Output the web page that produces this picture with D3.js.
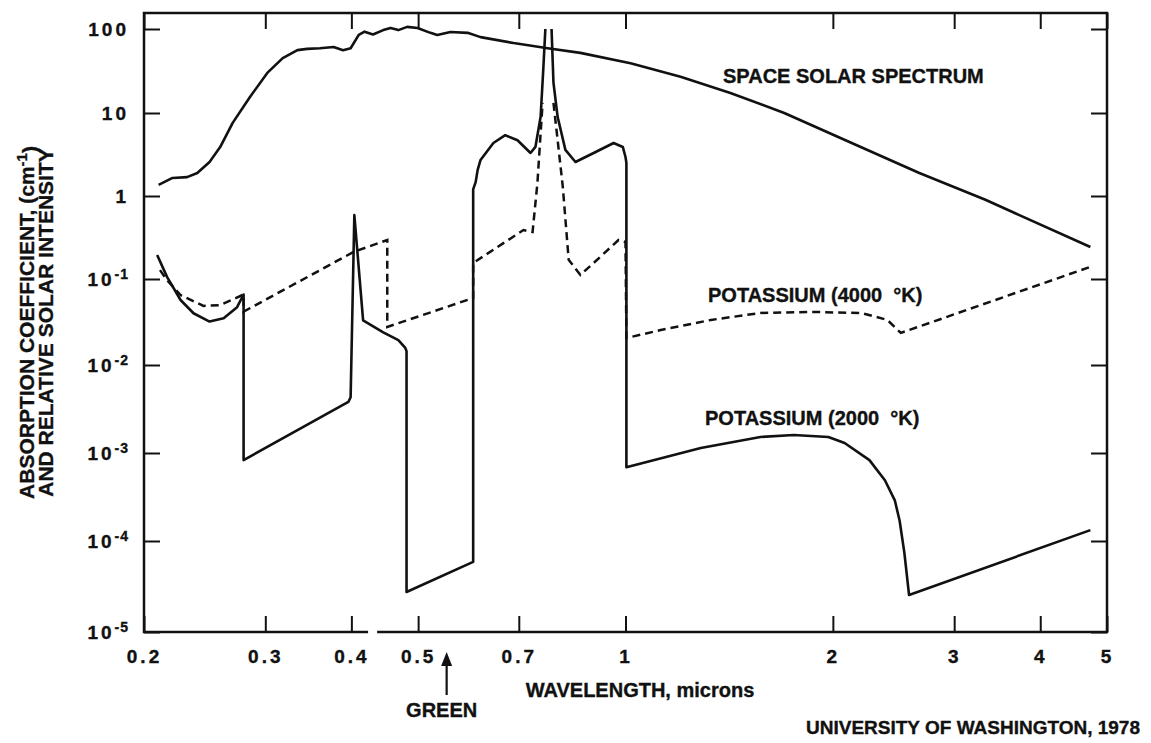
<!DOCTYPE html>
<html>
<head>
<meta charset="utf-8">
<script src="https://cdn.jsdelivr.net/npm/d3@7"></script>
<style>
  body { margin: 0; background: #fff; }
  svg { display: block; }
  text { font-family: "Liberation Sans", Arial, sans-serif; font-weight: bold; fill: #111; stroke: #111; stroke-width: 0.35px; }
</style>
</head>
<body>
<div id="chart"></div>
<script>
// data: [wavelength (microns), value]
// null value = pen lifted (gap between the two K resonance lines)
var solar = [
  [0.210, 1.36], [0.220, 1.65], [0.231, 1.69], [0.239, 1.89], [0.249, 2.57], [0.258, 3.89],
  [0.269, 7.6], [0.285, 15.5], [0.302, 30], [0.318, 45], [0.334, 56], [0.345, 58], [0.360, 59],
  [0.377, 61], [0.389, 56], [0.399, 59], [0.410, 85], [0.418, 93], [0.430, 86], [0.445, 97],
  [0.456, 103], [0.468, 97], [0.482, 106], [0.499, 103], [0.521, 90], [0.533, 85], [0.557, 92],
  [0.590, 90], [0.616, 80], [0.688, 68], [0.771, 59], [0.860, 52], [1.017, 39], [1.202, 27],
  [1.42, 17.3], [1.70, 10], [2.13, 4.35], [2.67, 1.89], [3.33, 0.9], [4.73, 0.243]
];

var potassium2000 = [
  [0.209, 0.195], [0.216, 0.106], [0.226, 0.057], [0.236, 0.040], [0.249, 0.032], [0.261, 0.035],
  [0.273, 0.047], [0.279, 0.066],
  [0.279, 8.3e-4], [0.396, 0.0038], [0.399, 0.0043], [0.404, 0.59], [0.416, 0.033], [0.445, 0.024],
  [0.468, 0.0195], [0.479, 0.0158], [0.481, 0.0145],
  [0.481, 2.75e-5], [0.601, 5.9e-5],
  [0.601, 1.2], [0.606, 1.47], [0.610, 2.05], [0.616, 2.72], [0.643, 4.35], [0.669, 5.4],
  [0.697, 4.7], [0.728, 3.3], [0.740, 3.9], [0.753, 9], [0.760, 35], [0.765, 100],
  [0.773, null],
  [0.781, 100], [0.786, 23], [0.797, 9], [0.818, 3.6], [0.846, 2.57], [0.899, 3.3], [0.961, 4.35],
  [0.991, 3.9], [1.0, 2.95], [1.003, 2.5],
  [1.003, 6.9e-4], [1.286, 1.14e-3], [1.57, 1.52e-3], [1.755, 1.6e-3], [1.97, 1.52e-3],
  [2.08, 1.3e-3], [2.26, 8.3e-4], [2.38, 4.9e-4], [2.46, 2.9e-4], [2.50, 1.7e-4], [2.54, 7.4e-5],
  [2.58, 2.55e-5], [4.73, 1.33e-4]
];

var potassium4000 = [
  [0.211, 0.128], [0.216, 0.097], [0.226, 0.065], [0.244, 0.0486], [0.258, 0.0497], [0.279, 0.066],
  [0.279, 0.0417], [0.403, 0.212], [0.451, 0.295],
  [0.451, 0.0277], [0.601, 0.0601],
  [0.601, 0.156], [0.711, 0.389], [0.733, 0.368], [0.745, 1.44], [0.753, 5.74], [0.758, 13.2],
  [0.772, null],
  [0.786, 13.2], [0.797, 4.73], [0.811, 1.28], [0.827, 0.17], [0.860, 0.112], [0.899, 0.156],
  [0.977, 0.295], [1.0, 0.279],
  [1.003, 0.0206], [1.125, 0.0255], [1.33, 0.0334], [1.57, 0.0403], [1.86, 0.0414], [2.20, 0.0403],
  [2.40, 0.0334], [2.51, 0.0236], [4.73, 0.14]
];

var xTicks = [0.2, 0.3, 0.4, 0.5, 0.7, 1, 2, 3, 4, 5];
var yTicks = [1e-5, 1e-4, 1e-3, 1e-2, 1e-1, 1, 10, 100];
var axisBreak = [0.423, 0.436];   // gap in the bottom axis line
var greenMark = 0.55;

// Margin and SVG

var svgWidth = 1151;
var svgHeight = 743;

var margin = { top: 13, right: 44, bottom: 111, left: 144 };
var width = svgWidth - margin.left - margin.right;
var height = svgHeight - margin.top - margin.bottom;

var svg = d3.select("#chart")
  .append("svg")
  .attr("width", svgWidth)
  .attr("height", svgHeight);

var chartGroup = svg.append("g")
  .attr("transform", `translate(${margin.left}, ${margin.top})`);

var x = d3.scaleLog()
  .domain([0.2, 5])
  .range([0, width]);

// the original's decades are not evenly spaced (hand drawn), so the y scale is piecewise log
var y = d3.scaleLog()
  .domain(yTicks)
  .range([619, 528, 440, 352, 266, 183, 100, 16]);

// axes, ticks pointing inwards
var tickLen = 16;

var bottomAxis = chartGroup.append("g")
  .attr("transform", `translate(0, ${height})`)
  .call(d3.axisBottom(x).tickValues(xTicks).tickSize(-tickLen).tickPadding(18)
    .tickFormat(d3.format("~g")));

chartGroup.append("g")
  .call(d3.axisTop(x).tickValues(xTicks).tickSize(-tickLen).tickFormat(""));

var leftAxis = chartGroup.append("g")
  .call(d3.axisLeft(y).tickValues(yTicks).tickSize(-tickLen).tickPadding(15));

chartGroup.append("g")
  .attr("transform", `translate(${width}, 0)`)
  .call(d3.axisRight(y).tickValues(yTicks).tickSize(-tickLen).tickFormat(""));

chartGroup.selectAll(".domain").remove();
chartGroup.selectAll(".tick line").attr("stroke", "#111").attr("stroke-width", 2);
chartGroup.selectAll(".tick text")
  .attr("font-size", 19)
  .attr("font-family", null)
  .attr("letter-spacing", "3px");

// powers of ten below 1 get superscripts
leftAxis.selectAll(".tick text").each(function(d) {
  var t = d3.select(this);
  var e = Math.round(Math.log10(d));
  if (e >= 0) return;
  t.text(null);
  t.append("tspan").text("10");
  t.append("tspan").attr("dy", "-0.5em").attr("font-size", 14).attr("letter-spacing", "1px")
    .text("-" + Math.abs(e));
});

// frame, bottom edge broken between 0.4 and 0.5
var frame = chartGroup.append("g")
  .attr("stroke", "#111")
  .attr("stroke-width", 2.5)
  .attr("fill", "none");

frame.append("path")
  .attr("d", `M${x(axisBreak[0])},${height}H0V0H${width}V${height}H${x(axisBreak[1])}`);

// curves
var line = d3.line()
  .defined(d => d[1] != null)
  .x(d => x(d[0]))
  .y(d => y(d[1]));

chartGroup.append("path")
  .datum(solar)
  .attr("d", line)
  .attr("fill", "none")
  .attr("stroke", "#111")
  .attr("stroke-width", 2.6)
  .attr("stroke-linejoin", "round");

chartGroup.append("path")
  .datum(potassium2000)
  .attr("d", line)
  .attr("fill", "none")
  .attr("stroke", "#111")
  .attr("stroke-width", 2.6)
  .attr("stroke-linejoin", "round");

chartGroup.append("path")
  .datum(potassium4000)
  .attr("d", line)
  .attr("fill", "none")
  .attr("stroke", "#111")
  .attr("stroke-width", 2.5)
  .attr("stroke-dasharray", "8,5");

// curve labels
chartGroup.append("text")
  .attr("x", 579).attr("y", 70)
  .attr("font-size", 20)
  .text("SPACE SOLAR SPECTRUM");

chartGroup.append("text")
  .attr("x", 564).attr("y", 289)
  .attr("font-size", 20)
  .attr("xml:space", "preserve")
  .text("POTASSIUM (4000  \u00b0K)");

chartGroup.append("text")
  .attr("x", 561).attr("y", 412)
  .attr("font-size", 20)
  .attr("xml:space", "preserve")
  .text("POTASSIUM (2000  \u00b0K)");

// axis titles
chartGroup.append("text")
  .attr("x", 496).attr("y", height + 65)
  .attr("text-anchor", "middle")
  .attr("font-size", 20)
  .text("WAVELENGTH, microns");

var yTitle = chartGroup.append("g")
  .attr("transform", `translate(-110, ${height / 2}) rotate(-90)`);

var t1 = yTitle.append("text")
  .attr("text-anchor", "middle")
  .attr("font-size", 21);
t1.append("tspan").text("ABSORPTION COEFFICIENT, (cm");
t1.append("tspan").attr("dy", "-0.5em").attr("font-size", 15).text("-1");
t1.append("tspan").attr("dy", "0.5em").text(")");

yTitle.append("text")
  .attr("y", 19)
  .attr("text-anchor", "middle")
  .attr("font-size", 21)
  .text("AND RELATIVE SOLAR INTENSITY");

// GREEN arrow
var gx = x(greenMark);
chartGroup.append("line")
  .attr("x1", gx).attr("x2", gx)
  .attr("y1", height + 63).attr("y2", height + 30)
  .attr("stroke", "#111")
  .attr("stroke-width", 2.2);

chartGroup.append("path")
  .attr("d", `M${gx},${height + 20}L${gx - 5.5},${height + 34}L${gx + 5.5},${height + 34}Z`)
  .attr("fill", "#111");

chartGroup.append("text")
  .attr("x", gx - 5).attr("y", height + 85)
  .attr("text-anchor", "middle")
  .attr("font-size", 20)
  .text("GREEN");

// credit line
svg.append("text")
  .attr("x", 1140).attr("y", 734)
  .attr("text-anchor", "end")
  .attr("font-size", 19)
  .text("UNIVERSITY OF WASHINGTON, 1978");
</script>
</body>
</html>
